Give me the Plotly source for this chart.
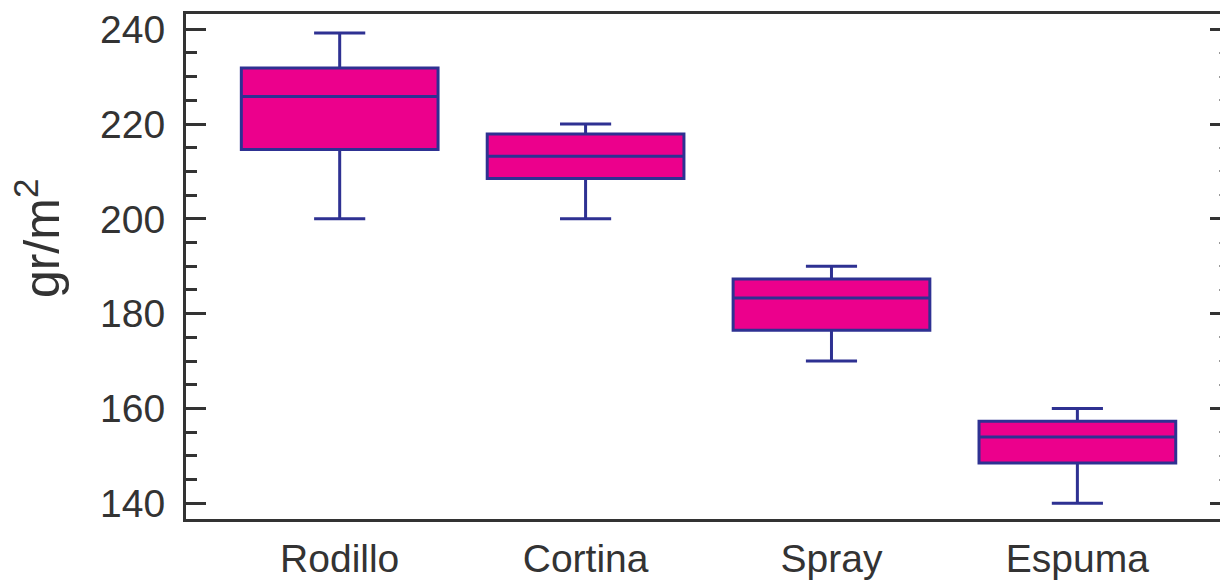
import plotly.graph_objects as go

categories = ["Rodillo", "Cortina", "Spray", "Espuma"]
lower_whisker = [200, 200, 170, 140]
q1_values = [214.6, 208.5, 176.5, 148.5]
median_values = [225.8, 213.2, 183.3, 154.0]
q3_values = [231.8, 217.9, 187.3, 157.3]
upper_whisker = [239.2, 220, 190, 160]

y_ticks = [140, 160, 180, 200, 220, 240]

LINE = "#2e3192"
FILL = "#ec008c"
AX = "#333333"
FONT = "Liberation Sans, Arial, sans-serif"

fig = go.Figure()
fig.add_trace(go.Box(
    x=categories,
    q1=q1_values,
    median=median_values,
    q3=q3_values,
    lowerfence=lower_whisker,
    upperfence=upper_whisker,
    boxpoints=False,
    width=0.8,
    whiskerwidth=0.26,
    fillcolor=FILL,
    line=dict(color=LINE, width=3),
    showlegend=False,
    hoverinfo="skip",
))
# empty helper trace so the mirrored right-hand tick axis is drawn
fig.add_trace(go.Scatter(x=[], y=[], yaxis="y2", showlegend=False, hoverinfo="skip"))

fig.update_layout(
    width=1220,
    height=580,
    margin=dict(l=186, r=0, t=14, b=59),
    paper_bgcolor="white",
    plot_bgcolor="white",
    font=dict(family=FONT, color=AX, size=39),
    xaxis=dict(
        type="category",
        range=[-0.625, 3.58],
        showline=True, linecolor=AX, linewidth=3, mirror=True,
        ticks="", showgrid=False, zeroline=False,
        tickfont=dict(size=39, color=AX, family=FONT),
        ticklabelstandoff=3,
    ),
    yaxis=dict(
        range=[136.7, 243.2],
        tickvals=y_ticks,
        showline=True, linecolor=AX, linewidth=3, mirror=False,
        ticks="inside", ticklen=20, tickwidth=3, tickcolor=AX,
        minor=dict(dtick=5, ticks="inside", ticklen=11, tickwidth=3, tickcolor=AX, showgrid=False),
        showgrid=False, zeroline=False,
        tickfont=dict(size=39, color=AX, family=FONT),
        ticklabelstandoff=10,
    ),
    yaxis2=dict(
        overlaying="y", side="right",
        range=[136.7, 243.2],
        tickvals=y_ticks,
        showline=False, showticklabels=False,
        ticks="inside", ticklen=10, tickwidth=3, tickcolor=AX,
        minor=dict(dtick=5, ticks="inside", ticklen=1, tickwidth=2, tickcolor="#999999", showgrid=False),
        showgrid=False, zeroline=False,
    ),
    annotations=[dict(
        text="gr/m<sup>2</sup>",
        xref="paper", yref="paper",
        x=(38 - 186) / 1034, y=(521 - 240) / 507,
        xanchor="center", yanchor="middle",
        textangle=-90, showarrow=False,
        font=dict(size=50, color=AX, family=FONT),
    )],
)

fig.write_html(
    "out.html",
    config={"displayModeBar": False},
    post_script="document.body.style.margin='0';document.body.style.overflow='hidden';",
)
